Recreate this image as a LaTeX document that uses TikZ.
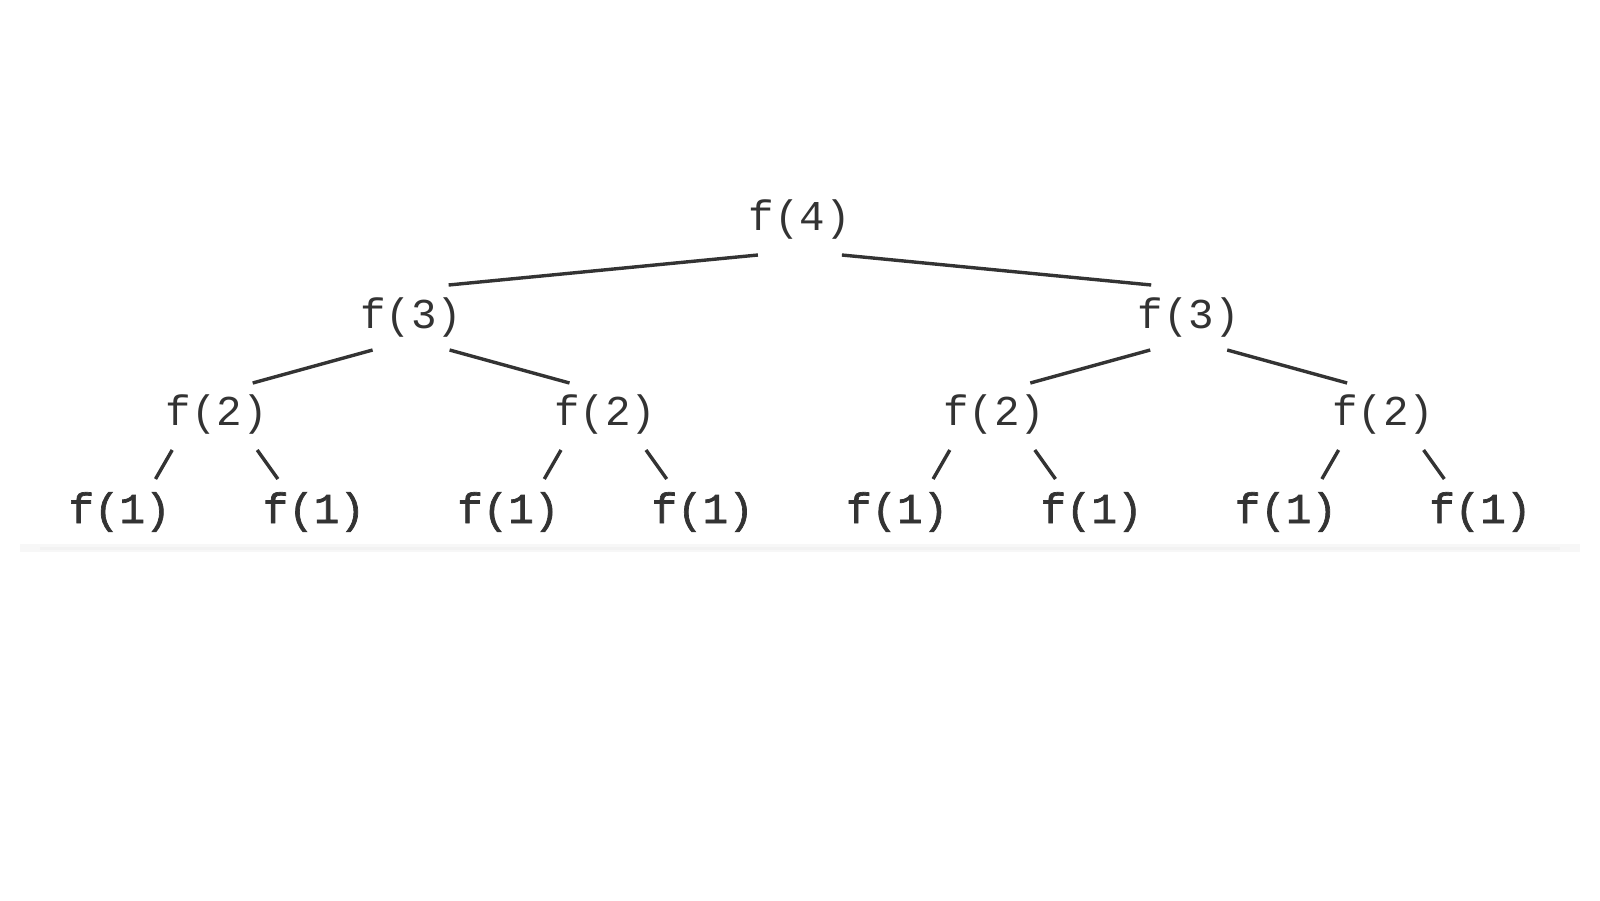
\documentclass[tikz,border=0pt]{standalone}
\usepackage{fontspec}
\setmonofont{Liberation Mono}
\newfontfamily\leaffont[FakeBold=1.6]{Liberation Mono}
\usetikzlibrary{calc}
\definecolor{ink}{HTML}{333333}
\tikzset{
  call/.style={font=\ttfamily\fontsize{42.5}{42.5}\selectfont, text=ink, anchor=base, inner sep=0pt},
  leaf/.style={font=\leaffont\fontsize{42.5}{42.5}\selectfont, text=ink, anchor=base, inner sep=0pt},
  edge/.style={draw=ink, line width=3.4pt, line cap=butt},
}
\begin{document}
\begin{tikzpicture}[x=1pt,y=-1pt]
\fill[white] (0,0) rectangle (1600,900);
\useasboundingbox (0,0) rectangle (1600,900);
% faint shadow under the bottom row
\draw[black!3, line width=8pt] (20,548) -- (1580,548);
\draw[black!5, line width=3pt] (40,548) -- (1560,548);
% nodes
\node[call] (r) at (799.9,230) {f(4)};
\node[call] (a) at (411.1,328) {f(3)};
\node[call] (b) at (1188.7,328) {f(3)};
\node[call] (a1) at (216.7,425) {f(2)};
\node[call] (a2) at (605.5,425) {f(2)};
\node[call] (b1) at (994.3,425) {f(2)};
\node[call] (b2) at (1383.1,425) {f(2)};
\node[leaf] (l1) at (119.5,523) {f(1)};
\node[leaf] (l2) at (313.9,523) {f(1)};
\node[leaf] (l3) at (508.3,523) {f(1)};
\node[leaf] (l4) at (702.7,523) {f(1)};
\node[leaf] (l5) at (897.1,523) {f(1)};
\node[leaf] (l6) at (1091.5,523) {f(1)};
\node[leaf] (l7) at (1285.9,523) {f(1)};
\node[leaf] (l8) at (1480.3,523) {f(1)};
% level 1
\draw[edge] ($(r.base)+(-42,25)$) -- ($(a.base)+(37.5,-43)$);
\draw[edge] ($(r.base)+(42,25)$) -- ($(b.base)+(-37.5,-43)$);
% level 2
\draw[edge] ($(a.base)+(-38.5,22)$) -- ($(a1.base)+(36,-42)$);
\draw[edge] ($(a.base)+(38.5,22)$) -- ($(a2.base)+(-36,-42)$);
\draw[edge] ($(b.base)+(-38.5,22)$) -- ($(b1.base)+(36,-42)$);
\draw[edge] ($(b.base)+(38.5,22)$) -- ($(b2.base)+(-36,-42)$);
% level 3
\draw[edge] ($(a1.base)+(-44.5,25)$) -- ($(l1.base)+(36,-44)$);
\draw[edge] ($(a1.base)+(40.5,25)$) -- ($(l2.base)+(-36,-44)$);
\draw[edge] ($(a2.base)+(-44.5,25)$) -- ($(l3.base)+(36,-44)$);
\draw[edge] ($(a2.base)+(40.5,25)$) -- ($(l4.base)+(-36,-44)$);
\draw[edge] ($(b1.base)+(-44.5,25)$) -- ($(l5.base)+(36,-44)$);
\draw[edge] ($(b1.base)+(40.5,25)$) -- ($(l6.base)+(-36,-44)$);
\draw[edge] ($(b2.base)+(-44.5,25)$) -- ($(l7.base)+(36,-44)$);
\draw[edge] ($(b2.base)+(40.5,25)$) -- ($(l8.base)+(-36,-44)$);
\end{tikzpicture}
\end{document}
